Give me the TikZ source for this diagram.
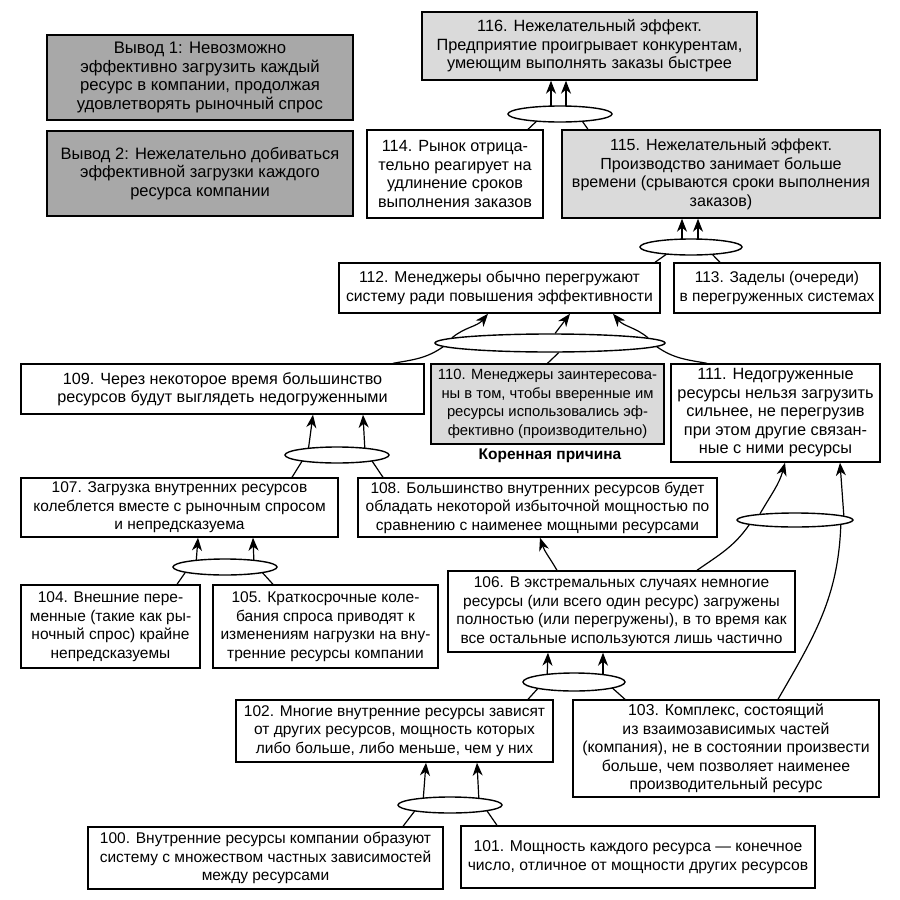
\documentclass[tikz,border=0pt]{standalone}
\usepackage{fontspec}
\setmainfont{Liberation Sans}
\usetikzlibrary{shapes.geometric,arrows.meta,calc,backgrounds}
\definecolor{darkbox}{RGB}{168,168,168}
\definecolor{lightbox}{RGB}{218,218,218}
\pgfdeclarelayer{paper}
\pgfsetlayers{paper,background,main}
\begin{document}
\begin{tikzpicture}[x=1pt,y=-1pt,
  fs/.style={font=\fontsize{#1}{18.5}\selectfont},
  box/.style 2 args={draw=black, line width=1.4pt, fill=white, align=center, inner sep=0pt,
     minimum width=#1pt, minimum height=#2pt, fs=15.5},
  ell/.style 2 args={ellipse, draw=black, line width=1.4pt, fill=white, inner sep=0pt,
     minimum width=#1pt, minimum height=#2pt},
  arr/.style={line width=1.2pt, -{Stealth[length=13pt,width=10pt,inset=4pt]}},
  lnk/.style={line width=1.2pt}]
\useasboundingbox (0,0) rectangle (900,900);
\begin{pgfonlayer}{paper}
\fill[white] (0,0) rectangle (900,900);
\end{pgfonlayer}

% boxes
\node[box={306}{85}, fill=darkbox, fs=16.7] (v1) at (200,77.5) {Вывод 1: Невозможно\\эффективно загрузить каждый\\ресурс в компании, продолжая\\удовлетворять рыночный спрос};
\node[box={306}{85}, fill=darkbox, fs=16.5] (v2) at (200,173.5) {Вывод 2: Нежелательно добиваться\\эффективной загрузки каждого\\ресурса компании};
\node[box={335}{68}, fill=lightbox, fs=16.3] (n116) at (589.5,46) {116. Нежелательный эффект.\\Предприятие проигрывает конкурентам,\\умеющим выполнять заказы быстрее};
\node[box={176}{88}, fs=16.2] (n114) at (455,174) {114. Рынок отрица-\\тельно реагирует на\\удлинение сроков\\выполнения заказов};
\node[box={318}{88}, fill=lightbox, fs=16.1] (n115) at (721,174) {115. Нежелательный эффект.\\Производство занимает больше\\времени (срываются сроки выполнения\\заказов)};
\node[box={321}{50}, fs=15.7] (n112) at (499.5,288) {112. Менеджеры обычно перегружают\\систему ради повышения эффективности};
\node[box={206}{50}] (n113) at (777,288) {113. Заделы (очереди)\\в перегруженных системах};
\node[box={403}{50}, fs=16.2] (n109) at (222.5,389) {109. Через некоторое время большинство\\ресурсов будут выглядеть недогруженными};
\node[box={233}{80}, fill=lightbox, fs=14.8] (n110) at (547.5,404) {110. Менеджеры заинтересова-\\ны в том, чтобы вверенные им\\ресурсы использовались эф-\\фективно (производительно)};
\node[font=\bfseries\fontsize{15.5}{18.5}\selectfont] (rc) at (550,456) {Коренная причина};
\node[box={209}{98}, fs=16.3] (n111) at (775.5,413) {111. Недогруженные\\ресурсы нельзя загрузить\\сильнее, не перегрузив\\при этом другие связан-\\ные с ними ресурсы};
\node[box={317}{59}] (n107) at (179.5,507.5) {107. Загрузка внутренних ресурсов\\колеблется вместе с рыночным спросом\\и непредсказуема};
\node[box={359}{59}] (n108) at (537.5,507.5) {108. Большинство внутренних ресурсов будет\\обладать некоторой избыточной мощностью по\\сравнению с наименее мощными ресурсами};
\node[box={179}{83}] (n104) at (110.5,626.5) {104. Внешние пере-\\менные (такие как ры-\\ночный спрос) крайне\\непредсказуемы};
\node[box={225}{83}] (n105) at (325.5,626.5) {105. Краткосрочные коле-\\бания спроса приводят к\\изменениям нагрузки на вну-\\тренние ресурсы компании};
\node[box={347}{81}] (n106) at (621.5,611.5) {106. В экстремальных случаях немногие\\ресурсы (или всего один ресурс) загружены\\полностью (или перегружены), в то время как\\все остальные используются лишь частично};
\node[box={317}{62}] (n102) at (394.5,731) {102. Многие внутренние ресурсы зависят\\от других ресурсов, мощность которых\\либо больше, либо меньше, чем у них};
\node[box={306}{97}, fs=15.8] (n103) at (726,748.5) {103. Комплекс, состоящий\\из взаимозависимых частей\\(компания), не в состоянии произвести\\больше, чем позволяет наименее\\производительный ресурс};
\node[box={355}{62}] (n100) at (265.5,858) {100. Внутренние ресурсы компании образуют\\систему с множеством частных зависимостей\\между ресурсами};
\node[box={354}{62}, fs=15.7] (n101) at (638,857) {101. Мощность каждого ресурса — конечное\\число, отличное от мощности других ресурсов};

% ellipses
\node[ell={104}{16}] (eA) at (560,114) {};
\node[ell={102}{16}] (eB) at (691,247) {};
\node[ell={230}{18}] (eC) at (550,343) {};
\node[ell={104}{16}] (eD) at (337,455) {};
\node[ell={104}{16}] (eE) at (225,567) {};
\node[ell={116}{14}] (eF) at (795,520) {};
\node[ell={102}{18}] (eG) at (574,682) {};
\node[ell={104}{16}] (eH) at (450,805) {};

\begin{scope}[on background layer]
% A
\draw[arr] ($(eA.center)+(-9,-4)$) -- ($(n116.south)+(-38.5,0)$);
\draw[arr] ($(eA.center)+(6,-4)$) -- ($(n116.south)+(-23.5,0)$);
\draw[lnk] ($(eA.center)+(-20,4)$) -- ($(n114.north)+(73,0)$);
\draw[lnk] ($(eA.center)+(20,4)$) -- ($(n115.north)+(-133,0)$);
% B
\draw[arr] ($(eB.center)+(-9,-4)$) -- ($(n115.south)+(-39,0)$);
\draw[arr] ($(eB.center)+(7,-4)$) -- ($(n115.south)+(-23,0)$);
\draw[lnk] ($(eB.center)+(-20,4)$) -- ($(n112.north)+(155.5,0)$);
\draw[lnk] ($(eB.center)+(18,4)$) -- ($(n113.north)+(-57,0)$);
% C
\draw[arr] (eC.177) to[out=40,in=-130] ($(n112.south)+(-11.5,0)$);
\draw[arr] (eC.62) -- ($(n112.south)+(70.5,0)$);
\draw[arr] (eC.3) to[out=140,in=-50] ($(n112.south)+(113.5,0)$);
\draw[lnk] (eC.182) to[out=215,in=10] ($(n109.north)+(170.5,0)$);
\draw[lnk] (eC.-48) -- (n110.north);
\draw[lnk] (eC.-2) to[out=-35,in=170] ($(n111.north)+(-68.5,0)$);
% D
\draw[arr] ($(eD.center)+(-29,-3)$) -- ($(n109.south)+(90.5,0)$);
\draw[arr] ($(eD.center)+(28,-3)$) -- ($(n109.south)+(140.5,0)$);
\draw[lnk] ($(eD.center)+(-33,3)$) -- ($(n107.north)+(112.5,0)$);
\draw[lnk] ($(eD.center)+(33,3)$) -- ($(n108.north)+(-154.5,0)$);
% E
\draw[arr] ($(eE.center)+(-29,-3)$) -- ($(n107.south)+(18.5,0)$);
\draw[arr] ($(eE.center)+(29,-3)$) -- ($(n107.south)+(73.5,0)$);
\draw[lnk] ($(eE.center)+(-38,3)$) -- ($(n104.north)+(66.5,0)$);
\draw[lnk] ($(eE.center)+(35,3)$) -- ($(n105.north)+(-52.5,0)$);
% F
\draw[arr] (eF.170) to[out=60,in=-105] ($(n111.south)+(9.5,0)$);
\draw[arr] (eF.5) -- ($(n111.south)+(64.5,0)$);
\draw[lnk] ($(n106.north)+(75.5,0)$) to[out=35,in=-125] (eF.186);
\draw[lnk] ($(n103.north)+(52,0)$) to[out=60,in=-92] (eF.-6);
% 106 -> 108
\draw[arr] ($(n106.north)+(-64.5,0)$) to[out=120,in=-72] ($(n108.south)+(2.5,0)$);
% G
\draw[arr] ($(eG.center)+(-27,-3)$) -- ($(n106.south)+(-73.5,0)$);
\draw[arr] ($(eG.center)+(29,-3)$) -- ($(n106.south)+(-18.5,0)$);
\draw[lnk] ($(eG.center)+(-33,3)$) -- ($(n102.north)+(133.5,0)$);
\draw[lnk] ($(eG.center)+(35,3)$) -- ($(n103.north)+(-101,0)$);
% H
\draw[arr] ($(eH.center)+(-27,-3)$) -- ($(n102.south)+(31.5,0)$);
\draw[arr] ($(eH.center)+(29,-3)$) -- ($(n102.south)+(82.5,0)$);
\draw[lnk] ($(eH.center)+(-33,3)$) -- ($(n100.north)+(137.5,0)$);
\draw[lnk] ($(eH.center)+(35,3)$) -- ($(n101.north)+(-141,0)$);
\end{scope}
\end{tikzpicture}
\end{document}
